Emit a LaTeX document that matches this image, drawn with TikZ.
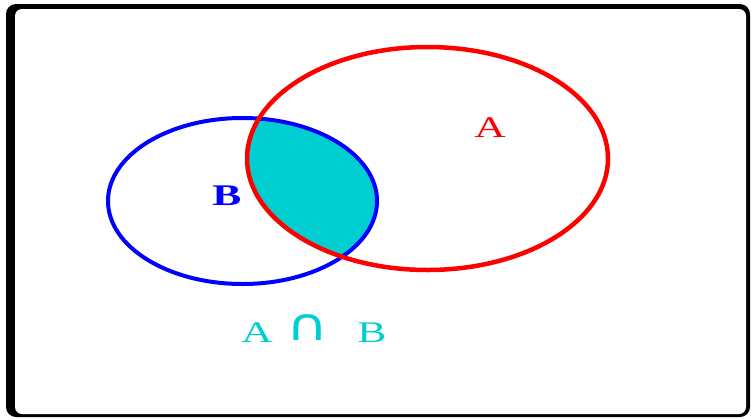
\documentclass[tikz,border=0pt]{standalone}
\usepackage{fontspec}
\usepackage{graphicx}
\setmainfont{Liberation Serif}
\newfontfamily\symfont{DejaVu Sans}
\usetikzlibrary{shapes.geometric}
\definecolor{setred}{HTML}{FF0000}
\definecolor{setblue}{HTML}{0000FF}
\definecolor{capcol}{HTML}{00CED1}
\newcommand{\wide}[1]{\scalebox{1.45}[1]{#1}}

\begin{document}
\begin{tikzpicture}[x=1pt,y=-1pt, every node/.style={font=\fontsize{30}{32}\selectfont}]
        \useasboundingbox (0,0) rectangle (751,418);
        \fill[black,rounded corners=10pt] (6,4) rectangle (750,417);
        \fill[white,rounded corners=7pt] (15,9) rectangle (746,414);
        \begin{scope}
          \clip (427.5,158.5) ellipse[x radius=180.5,y radius=111.5];
          \fill[capcol] (242.5,201) ellipse[x radius=134.5,y radius=83];
        \end{scope}
        \draw[setblue,line width=4pt] (242.5,201) ellipse[x radius=134.5,y radius=83];
        \draw[setred,line width=4.5pt] (427.5,158.5) ellipse[x radius=180.5,y radius=111.5];
        \node[text=setred] (seta) at (490,128) {\wide{A}};
        \node[text=setblue] (setb) at (227,196) {\wide{\textbf{B}}};
        \node[text=capcol] (lefta) at (257,333) {\wide{A}};
        \node[text=capcol,font=\fontsize{32}{34}\selectfont] (capsym) at (308,328) {\scalebox{1.8}[1.4]{\symfont ∩}};
        \node[text=capcol] (rightb) at (372,333) {\wide{B}};
      \end{tikzpicture}
\end{document}
